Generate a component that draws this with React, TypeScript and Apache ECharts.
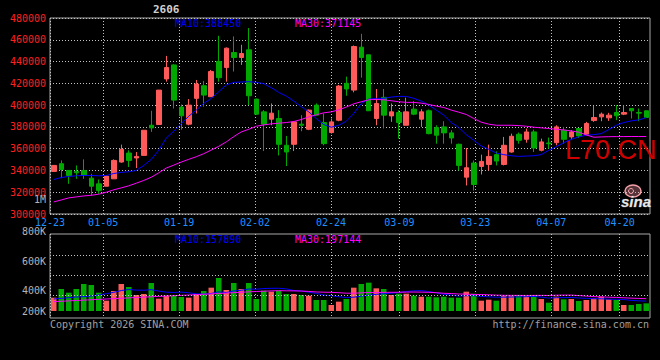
import React, { useEffect, useRef } from 'react';
import * as echarts from 'echarts';

// ---- data ----
const dates = [
  '12-23','12-24','12-25','12-26','12-29','12-30','12-31',
  '01-05','01-06','01-07','01-08','01-09','01-12','01-13','01-14','01-15','01-16',
  '01-19','01-20','01-21','01-22','01-23','01-26','01-27','01-28','01-29','01-30',
  '02-02','02-03','02-04','02-05','02-06','02-09','02-10','02-11','02-12','02-13',
  '02-24','02-25','02-26','02-27','03-02','03-03','03-04','03-05','03-06',
  '03-09','03-10','03-11','03-12','03-13','03-16','03-17','03-18','03-19','03-20',
  '03-23','03-24','03-25','03-26','03-27','03-30','03-31','04-01','04-02','04-03',
  '04-07','04-08','04-09','04-10','04-13','04-14','04-15','04-16','04-17',
  '04-20','04-21','04-22','04-23','04-24',
];

const dateTickLabels = ['12-23','01-05','01-19','02-02','02-24','03-09','03-23','04-07','04-20'];

const opens = [
  339100,346200,340000,339100,340000,332900,327700,325500,332300,347700,
  356000,351400,353800,381500,382200,424000,436900,398200,382500,406200,
  417800,407700,440000,434500,448300,443700,450800,405500,393800,387100,
  387700,363100,364000,382500,377800,400000,384000,374800,386100,420000,
  413800,453200,446200,387700,407100,390100,393200,381500,396300,387100,
  394800,379400,380000,374500,364000,333800,346800,343700,345500,354500,
  345500,356900,373200,368600,375400,358500,365200,365500,376900,370800,
  378500,373200,385800,389200,388300,393200,391700,396900,393200,394800,
];
const closes = [
  344600,340900,335400,337900,335400,325500,321500,334800,349200,359400,
  349200,352900,376900,379100,413800,434500,404600,390200,400000,419400,
  409200,430800,425200,452300,443700,447400,408600,391700,382500,392600,
  364000,356900,384600,381500,395400,390800,364600,384600,417500,414800,
  453800,443700,394800,401500,390800,393800,384000,393800,391700,393800,
  373800,372300,374500,369800,344600,342500,327100,348300,352900,348600,
  363100,371400,367700,375400,360600,366200,364600,380000,368600,375400,
  371700,383100,388600,391700,390800,390200,393200,394800,392600,388600,
];
const lows = [
  339100,332900,327700,332300,332300,316900,318500,325500,332300,347100,
  343100,342200,353800,375400,382200,421500,396900,377500,381500,392300,
  398500,407700,421500,421500,430800,436900,400000,391000,357800,381500,
  353800,344000,357800,376000,377000,390800,363100,373800,385200,408600,
  411700,425200,394800,381500,378500,384600,369200,381500,390800,380000,
  373200,364600,364600,364600,340000,326200,321500,336300,340000,344600,
  344600,356300,364600,365500,356900,357500,360000,363100,364600,368600,
  369800,372300,384600,385200,385500,386200,390800,387700,385200,388600,
];
const highs = [
  344600,349200,340000,344600,350200,336900,331700,335400,350200,363700,
  358500,356900,376900,394800,413800,445200,437500,400600,405500,423100,
  422200,432300,463700,452900,463100,455400,470800,406000,395400,401500,
  395400,371700,385200,390800,396000,401500,392300,387700,418500,426200,
  454800,465500,446200,414800,414800,401500,395400,406800,403700,396300,
  396000,381500,385200,376900,364600,360600,349200,354500,363700,357500,
  370800,373800,374800,378500,377500,369200,370200,381500,380000,376900,
  378500,384600,399400,393200,392900,400000,400000,396900,396900,394800,
];
const ma10 = [
  331700,333500,334500,335100,335400,335400,335100,335400,337200,338200,
  338800,340000,344600,350200,358500,369800,376000,383100,389800,395400,
  401500,406200,412300,418500,420900,421200,421500,420900,419700,416000,
  411700,408300,403700,398500,393800,387700,382200,379700,381500,385200,
  392300,401500,405500,406200,406200,407400,408000,408000,406200,403700,
  400000,395400,390800,384000,379400,372900,367700,362500,359400,356000,
  354500,353500,352900,353200,353500,354500,358500,361800,365500,368600,
  370800,372300,372900,373800,377500,381500,384000,385500,386500,388450,
];
const ma30 = [
  311100,312900,314800,315700,316600,317200,318200,320000,322200,324000,
  325900,328300,330800,333800,337800,342200,344900,347700,350200,352600,
  355400,358800,362200,366200,371100,375400,377800,380600,381800,382800,
  383400,384000,384900,386800,389200,391100,392900,393800,395700,398200,
  401200,403100,404900,405200,404900,404000,403100,402500,402500,401800,
  400600,399100,397800,395400,393500,391400,387700,384300,382500,381500,
  381500,381500,381200,380600,379700,379100,378500,377800,377200,376300,
  375100,372600,370500,370800,371000,371100,371100,371200,371150,371145,
];
const volumes = [
  213300,352000,293300,352000,432000,416000,293300,165300,320000,432000,
  384000,256000,272000,448000,197300,245300,245300,224000,213300,272000,
  320000,373300,528000,336000,448000,352000,448000,192000,325300,309300,
  325300,272000,272000,256000,245300,176000,176000,96000,149300,192000,
  373300,432000,453300,362700,352000,256000,277300,277300,245300,229300,
  229300,218700,229300,213300,213300,309300,277300,165300,181300,165300,
  240000,240000,256000,240000,256000,192000,133300,229300,186700,192000,
  160000,176000,202700,229300,186700,176000,96000,96000,112000,122700,
];
const volMa10 = [
  192000,202700,213300,224000,229300,240000,256000,277300,298700,326900,
  344000,334400,332300,341900,318400,301300,296500,302400,291700,275700,
  269300,281000,306600,295400,320500,331200,351500,348300,359500,363200,
  363700,353600,328000,320000,299700,282100,254900,245300,227700,216000,
  220800,236800,254900,265600,276300,284300,294400,312500,322100,325900,
  311500,290200,267800,252800,238900,244300,244300,233100,226700,220300,
  221300,223500,226200,228800,233100,221400,207000,213400,213900,216600,
  208600,202200,196900,195800,188900,187300,183600,170200,162800,157890,
];
const volMa30 = [
  150000,156000,162000,168000,174000,180000,186000,192000,198000,204000,
  210000,216000,222000,228000,234000,239000,245000,250000,256000,262000,
  268000,274000,280000,287000,294000,300000,306000,312000,317000,321900,
  325700,323000,322300,319100,312900,304900,301000,298700,293000,285000,
  284600,290500,296500,293700,298800,299200,300200,302000,303100,301600,
  298600,293500,283500,279400,271600,270200,264500,263600,258800,254000,
  251200,250100,249600,249000,249400,249900,248500,252900,254200,254200,
  247100,238500,230200,225700,220200,217500,211500,205400,201000,197144,
];
const priceTicks = { min: 300000, max: 480000, step: 20000 };
const volTickLabels = ['1M', '800K', '600K', '400K', '200K'];
const volGridValues = [256000, 576000, 896000];
const legendPrice = ['MA10:388450', 'MA30:371145'];
const legendVol = ['MA10:157890', 'MA30:197144'];

// ---- styles ----
const UP = '#ff5a5a';
const DOWN = '#00a800';
const GRID_C = '#c4c4c4';
const BORDER_C = '#a8a8a8';
const MA10_C = '#0000ff';
const MA30_C = '#ff00ff';
const FONT = 'DejaVu Sans Mono';
const volLabelY = [199, 231, 261, 290, 311];

export default function App() {
  const ref = useRef<HTMLDivElement>(null);
  useEffect(() => {
    if (!ref.current) return;
    const chart = echarts.init(ref.current, undefined, { renderer: 'svg' });
    const tickIdx = new Set(dateTickLabels.map((d) => dates.indexOf(d)));
    const dotted = { color: GRID_C, type: [1, 2] as any, width: 1 };

    const text = (t: string, x: number, y: number, fill: string, extra: any = {}) => ({
      type: 'text',
      x,
      y,
      z: 10,
      silent: true,
      style: {
        text: t,
        fill,
        font: `10px "${FONT}"`,
        align: 'left',
        verticalAlign: 'middle',
        textAlign: 'left',
        textVerticalAlign: 'middle',
        ...extra,
      },
    });

    const option: any = {
      animation: false,
      backgroundColor: '#000000',
      grid: [
        { left: 50, top: 18, width: 600, height: 196, show: true, borderColor: BORDER_C, borderWidth: 1, backgroundColor: 'transparent' },
        { left: 50, top: 234, width: 600, height: 84, show: true, borderColor: BORDER_C, borderWidth: 1, backgroundColor: 'transparent' },
      ],
      xAxis: [
        { type: 'category', gridIndex: 0, position: 'bottom', data: dates, boundaryGap: true, show: false },
        {
          type: 'category', gridIndex: 0, position: 'bottom', data: dates, boundaryGap: false,
          axisLine: { show: false }, axisTick: { show: false },
          axisLabel: {
            interval: (i: number) => tickIdx.has(i),
            color: '#1e90ff', fontFamily: FONT, fontSize: 10, margin: 3,
          },
          splitLine: { show: true, interval: (i: number) => tickIdx.has(i), lineStyle: dotted },
        },
        { type: 'category', gridIndex: 1, position: 'bottom', data: dates, boundaryGap: true, show: false },
        {
          type: 'category', gridIndex: 1, position: 'bottom', data: dates, boundaryGap: false,
          axisLine: { show: false }, axisTick: { show: false }, axisLabel: { show: false },
          splitLine: { show: true, interval: (i: number) => tickIdx.has(i), lineStyle: dotted },
        },
      ],
      yAxis: [
        {
          type: 'value', gridIndex: 0, min: priceTicks.min, max: priceTicks.max, interval: priceTicks.step,
          axisLine: { show: false }, axisTick: { show: false },
          axisLabel: { color: '#ff2020', fontFamily: FONT, fontSize: 10, margin: 4, padding: [0, 0, 4, 0], formatter: (v: number) => String(v) },
          splitLine: { show: true, lineStyle: dotted },
        },
        { type: 'value', gridIndex: 1, min: -112000, max: 1232000, show: false, splitLine: { show: false } },
      ],
      series: [
        {
          type: 'candlestick', xAxisIndex: 0, yAxisIndex: 0, z: 3,
          barWidth: 5,
          data: dates.map((_, i) => [opens[i], closes[i], lows[i], highs[i]]),
          itemStyle: { color: UP, color0: DOWN, borderColor: UP, borderColor0: DOWN, borderWidth: 1 },
        },
        { type: 'line', xAxisIndex: 0, yAxisIndex: 0, z: 4, data: ma10, showSymbol: false, symbol: 'none', lineStyle: { color: MA10_C, width: 1 }, itemStyle: { color: MA10_C } },
        { type: 'line', xAxisIndex: 0, yAxisIndex: 0, z: 4, data: ma30, showSymbol: false, symbol: 'none', lineStyle: { color: MA30_C, width: 1 }, itemStyle: { color: MA30_C } },
        {
          type: 'bar', xAxisIndex: 2, yAxisIndex: 1, z: 3, barWidth: 5.5,
          data: volumes.map((v, i) => ({ value: v, itemStyle: { color: closes[i] >= opens[i] ? UP : DOWN } })),
          markLine: {
            silent: true, symbol: 'none', label: { show: false }, animation: false,
            lineStyle: dotted,
            data: volGridValues.map((v) => ({ yAxis: v })),
          },
        },
        { type: 'line', xAxisIndex: 2, yAxisIndex: 1, z: 4, data: volMa10, showSymbol: false, symbol: 'none', lineStyle: { color: MA10_C, width: 1 }, itemStyle: { color: MA10_C } },
        { type: 'line', xAxisIndex: 2, yAxisIndex: 1, z: 4, data: volMa30, showSymbol: false, symbol: 'none', lineStyle: { color: MA30_C, width: 1 }, itemStyle: { color: MA30_C } },
      ],
      graphic: [
        text('2606', 153, 9, '#d0d0d0', { font: `bold 11px "${FONT}"` }),
        text(legendPrice[0], 175, 23, MA10_C),
        text(legendPrice[1], 295, 23, MA30_C),
        text(legendVol[0], 175, 239, MA10_C),
        text(legendVol[1], 295, 239, MA30_C),
        ...volTickLabels.map((t, i) => text(t, 46, volLabelY[i], '#b4b4b4', { align: 'right', textAlign: 'right' })),
        text('Copyright 2026 SINA.COM', 50, 324, '#a0a0a0'),
        text('http://finance.sina.com.cn', 649, 324, '#a0a0a0', { align: 'right', textAlign: 'right' }),
        {
          type: 'text', x: 565, y: 150, z: 1, silent: true,
          style: { text: 'L70.CN', fill: '#d00000', font: '27px "Liberation Sans"', align: 'left', verticalAlign: 'middle', textAlign: 'left', textVerticalAlign: 'middle' },
        },
        {
          type: 'ellipse', z: 1, silent: true,
          shape: { cx: 633, cy: 191, rx: 8, ry: 6 },
          style: { fill: 'rgba(240,150,160,0.35)', stroke: '#f4a0a8', lineWidth: 1.5 },
        },
        {
          type: 'circle', z: 1, silent: true,
          shape: { cx: 631, cy: 191, r: 2.5 },
          style: { fill: 'none', stroke: '#f4a0a8', lineWidth: 1 },
        },
        {
          type: 'text', x: 636, y: 201, z: 1, silent: true,
          style: { text: 'sina', fill: '#e8e8e8', stroke: '#777', lineWidth: 0.5, font: 'italic bold 15px "Liberation Sans"', align: 'center', verticalAlign: 'middle', textAlign: 'center', textVerticalAlign: 'middle' },
        },
      ],
    };
    chart.setOption(option);
    return () => chart.dispose();
  }, []);
  return <div ref={ref} style={{ position: 'absolute', left: 0, top: 0, width: 660, height: 360 }} />;
}
